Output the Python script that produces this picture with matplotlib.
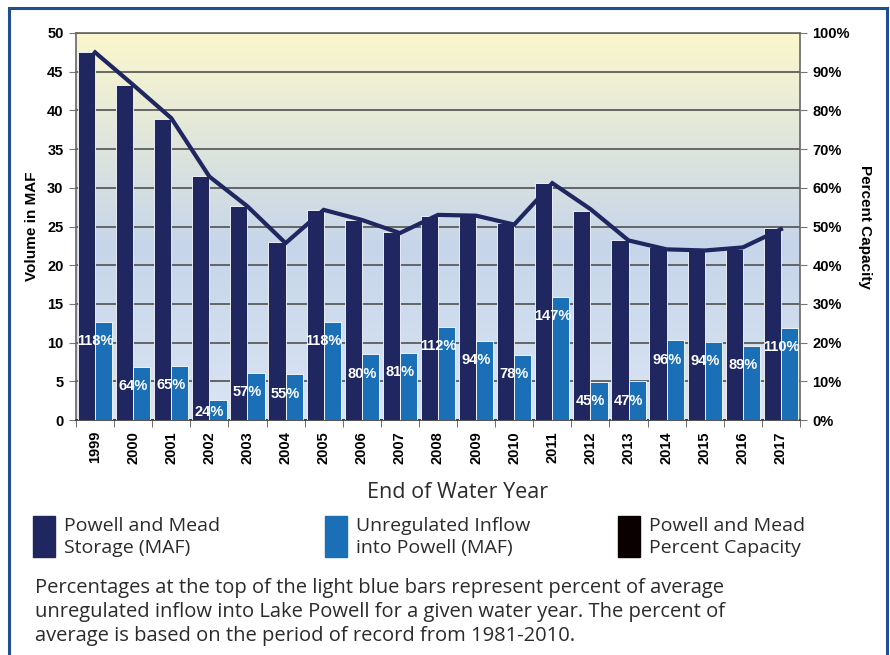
import numpy as np
import matplotlib.pyplot as plt
from matplotlib.colors import LinearSegmentedColormap
from matplotlib.patches import Rectangle

years = [str(y) for y in range(1999, 2018)]
storage = [47.5, 43.3, 38.9, 31.5, 27.7, 23.0, 27.1, 25.8, 24.3, 26.4,
           26.5, 25.5, 30.6, 27.0, 23.2, 22.4, 22.0, 22.1, 24.8]
inflow = [12.7, 6.9, 7.0, 2.6, 6.1, 5.9, 12.7, 8.5, 8.7, 12.0,
          10.2, 8.4, 15.9, 4.9, 5.0, 10.3, 10.1, 9.6, 11.9]
inflow_pct = [118, 64, 65, 24, 57, 55, 118, 80, 81, 112,
              94, 78, 147, 45, 47, 96, 94, 89, 110]
capacity = [95.0, 86.6, 78.0, 62.9, 55.2, 45.7, 54.3, 51.7, 48.3, 53.0,
            52.8, 50.5, 61.2, 54.5, 46.4, 44.1, 43.8, 44.6, 49.3]

navy = '#1f2660'
blue = '#1a6fb6'
W, H = 890, 655

def fx(px):
    return px / W

def fy(py):
    return 1 - py / H

fig = plt.figure(figsize=(W / 100, H / 100), dpi=100)
ax = fig.add_axes([fx(76), fy(420), fx(800) - fx(76), fy(33) - fy(420)])

# background gradient
cmap = LinearSegmentedColormap.from_list('bg', [(0, '#dae5f4'), (0.45, '#c6d5ea'), (1, '#fbf7cd')])
grad = np.linspace(0, 1, 256).reshape(-1, 1)
ax.imshow(grad, extent=[-0.5, len(years) - 0.5, 0, 50], aspect='auto', cmap=cmap,
          origin='lower', zorder=0)

x = np.arange(len(years))
bw = 0.45
ax.bar(x - bw / 2, storage, bw, color=navy, edgecolor='white', linewidth=0.6, zorder=3)
ax.bar(x + bw / 2, inflow, bw, color=blue, edgecolor='white', linewidth=0.6, zorder=3)

ax.set_xlim(-0.5, len(years) - 0.5)
ax.set_ylim(0, 50)
ax.set_yticks(range(0, 51, 5))
ax.grid(axis='y', color='#5c5c5c', linewidth=1.3, zorder=1)
ax.set_axisbelow(True)
ax.set_xticks(x)
ax.set_xticklabels(years, rotation=90, fontsize=10.5, fontweight='bold', family='Liberation Sans')
ax.set_xticks(np.arange(-0.5, len(years), 1), minor=True)
ax.tick_params(axis='x', which='major', length=0, pad=8)
ax.tick_params(axis='x', which='minor', length=5, color='#555')
ax.tick_params(axis='y', length=5, color='#777', pad=4)
for lbl in ax.get_yticklabels():
    lbl.set_fontweight('bold')
    lbl.set_fontsize(10.5)
    lbl.set_family('Liberation Sans')
for s in ['left', 'right', 'top', 'bottom']:
    ax.spines[s].set_color('#666')
    ax.spines[s].set_linewidth(1.2)
ax.spines['bottom'].set_color('#333')
ax.set_ylabel('Volume in MAF', fontsize=11, fontweight='bold', family='Liberation Sans', labelpad=6)

ax2 = ax.twinx()
ax2.set_ylim(0, 100)
ax2.set_yticks(range(0, 101, 10))
ax2.set_yticklabels([f'{v}%' for v in range(0, 101, 10)], fontsize=10.5, fontweight='bold',
                    family='Liberation Sans')
ax2.tick_params(axis='y', length=5, color='#777', pad=4)
for s in ['left', 'right', 'top', 'bottom']:
    ax2.spines[s].set_visible(False)
ax2.plot(x, capacity, color=navy, linewidth=3, zorder=4, solid_joinstyle='miter')
ax2.set_ylabel('Percent Capacity', fontsize=11, fontweight='bold', family='Liberation Sans',
               rotation=270, labelpad=16)

for xi, v, p in zip(x, inflow, inflow_pct):
    ax2.text(xi, max(v - 2.5, 1.0), f'{p}%', transform=ax.transData, ha='center', va='center',
             color='white', fontsize=10.5, fontweight='bold', family='Liberation Sans', zorder=6)

# bottom captions and legend
tc = '#2b2b2b'
fnt = 'Open Sans'
fig.text(fx(458), fy(492), 'End of Water Year', ha='center', va='center', fontsize=15.5,
         color=tc, family=fnt)
legend_items = [(33, navy, 'Powell and Mead\nStorage (MAF)'),
                (325, blue, 'Unregulated Inflow\ninto Powell (MAF)'),
                (618, '#0a0000', 'Powell and Mead\nPercent Capacity')]
for px, col, txt in legend_items:
    fig.add_artist(Rectangle((fx(px), fy(557)), fx(22), fy(516) - fy(557),
                             transform=fig.transFigure, color=col))
    fig.text(fx(px + 31), fy(537), txt, ha='left', va='center', fontsize=14, color=tc,
             family=fnt, linespacing=1.3)

fig.text(fx(35), fy(612),
         'Percentages at the top of the light blue bars represent percent of average\n'
         'unregulated inflow into Lake Powell for a given water year. The percent of\n'
         'average is based on the period of record from 1981-2010.',
         ha='left', va='center', fontsize=14.5, color=tc, family=fnt, linespacing=1.25)

# outer frame
fig.add_artist(Rectangle((fx(9), -0.05), fx(878), fy(8) + 0.05, transform=fig.transFigure,
                         fill=False, edgecolor='#1d4f91', linewidth=2.2))

fig.savefig('out.png', dpi=100)
